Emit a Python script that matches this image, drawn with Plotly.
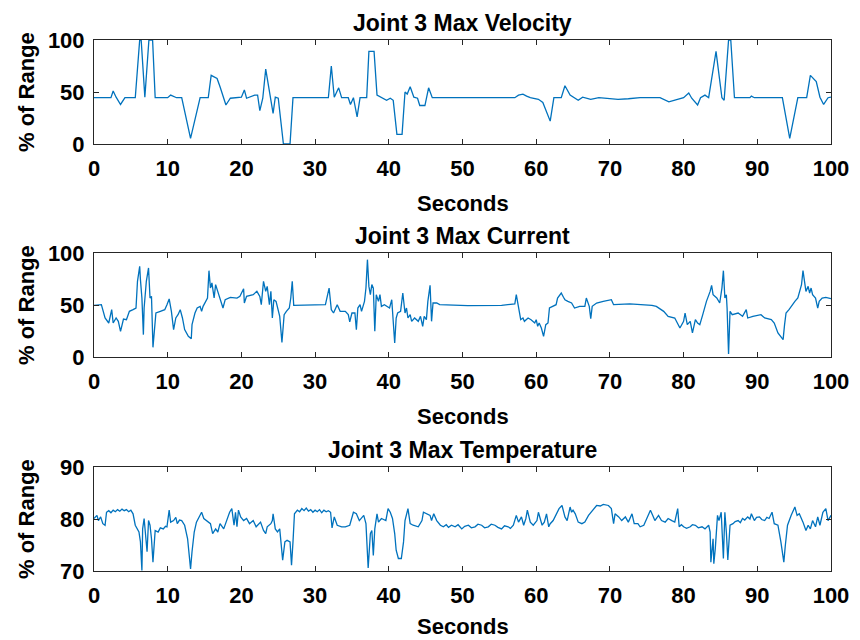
import plotly.graph_objects as go

# ---------------- data ----------------
vel_t = [0, 2.3, 2.6, 3.0, 3.6, 4.2, 5.6, 6.2, 6.4, 6.9, 7.45, 7.95, 8.3, 10.0, 10.4, 11.2, 11.9, 13.1, 14.4,
         15.5, 15.9, 16.7, 17.1, 17.9, 18.5, 20.0, 20.4, 20.7, 21.8, 22.2, 22.5, 22.9, 23.3, 23.9, 24.1, 24.3,
         24.6, 25.0, 25.7, 26.6, 27.0, 31.8, 32.2, 32.6, 33.2, 33.6, 34.5, 34.8, 35.2, 35.7, 36.1, 37.0, 37.3,
         38.0, 38.4, 39.0, 39.7, 40.2, 40.6, 41.1, 41.8, 42.2, 42.5, 42.9, 43.4, 43.9, 44.2, 44.9, 45.4, 45.9,
         57.1, 57.6, 58.2, 58.7, 59.2, 60.3, 60.9, 61.9, 62.4, 63.4, 63.9, 64.6, 65.2, 65.7, 66.3, 67.4, 68.5,
         71.1, 72.5, 74.1, 76.8, 78.0, 80.0, 80.7, 81.1, 81.9, 82.3, 82.9, 83.4, 84.4, 85.2, 85.5, 86.1, 86.4,
         86.9, 89.0, 89.2, 89.6, 93.4, 94.4, 95.5, 96.7, 97.2, 98.0, 98.5, 99.0, 99.6, 100]
vel_v = [44.5, 44.5, 51, 45, 38, 44.5, 44.5, 100, 100, 45, 100, 100, 44.5, 44.5, 47, 44.5, 44.5, 5.5, 44.5,
         44.5, 66, 63, 55, 37.5, 44, 45, 52, 44, 47, 47, 32, 44, 72, 45, 38, 29.5,
         45, 44, 0, 0, 44.5, 44.5, 75, 45, 54, 44.5, 44.5, 38, 44.5, 26, 44.5, 44.5, 89,
         89, 47, 44.5, 42, 44, 42, 9.3, 9.3, 50, 48, 55, 45, 44, 37, 37, 54, 44.5,
         44.5, 47, 48, 46, 44.5, 43, 40, 22, 44.5, 44.5, 56, 47, 44.5, 42, 45, 43, 44.5,
         43, 43.5, 44.5, 44.5, 40.5, 44.5, 49, 44, 37.5, 44.5, 47, 44.5, 89, 44.5, 42, 100, 100,
         44.5, 44.5, 46, 44.5, 44.5, 5.5, 44.5, 44.5, 66, 60, 45, 38, 44.5, 45]

cur_t = [0, 1.0, 1.5, 2.0, 2.4, 2.6, 3.0, 3.3, 3.6, 4.0, 4.4, 4.8, 5.3, 5.7, 5.9, 6.2, 6.3, 6.5, 6.7, 6.8,
         7.1, 7.4, 7.6, 7.8, 8.0, 8.4, 9.0, 9.6, 9.9, 10.2, 10.5, 10.8, 11.1, 11.4, 11.7, 12.0, 12.3, 12.8,
         13.2, 13.3, 13.7, 14.0, 14.4, 14.6, 14.8, 15.4, 15.6, 15.8, 16.0, 16.3, 16.5, 16.9, 17.2, 17.5, 17.8,
         18.5, 19.4, 19.8, 20.3, 20.4, 20.7, 21.6, 22.1, 22.5, 22.7, 23.0, 23.3, 23.5, 23.8, 24.0, 24.2, 24.4,
         24.7, 25.0, 25.2, 25.5, 25.8, 26.1, 26.5, 26.7, 26.9, 27.1, 31.4, 31.9, 32.2, 32.5, 33.0, 33.4, 34.1,
         34.5, 34.7, 35.0, 35.4, 35.6, 35.8, 36.1, 36.3, 36.7, 36.9, 37.1, 37.3, 37.5, 37.7, 37.9, 38.1, 38.3,
         38.6, 38.8, 39.0, 39.4, 40.1, 40.4, 40.6, 40.8, 41.0, 41.2, 41.6, 41.9, 42.2, 42.4, 42.6, 42.9, 43.1,
         43.5, 44.0, 44.3, 44.6, 44.8, 45.1, 45.3, 45.6, 45.8, 46.0, 46.5, 46.9, 50.7, 55.3, 57.1, 57.3, 57.5,
         57.9, 58.2, 58.4, 58.9, 59.3, 59.8, 60.0, 60.2, 60.4, 60.7, 61.0, 61.3, 61.6, 61.8, 62.3, 62.7, 62.9,
         63.4, 63.7, 63.9, 64.3, 64.8, 65.2, 65.9, 66.6, 66.8, 67.2, 67.4, 67.6, 68.2, 69.1, 70.2, 70.5, 72.7,
         75.7, 76.3, 77.3, 77.9, 78.8, 79.5, 80.0, 80.2, 80.5, 80.9, 81.2, 81.6, 81.9, 82.2, 82.6, 83.1, 83.6,
         83.8, 84.0, 84.5, 84.9, 85.2, 85.4, 85.6, 85.8, 85.9, 86.1, 86.3, 86.6, 87.4, 88.0, 88.5, 88.7, 89.4,
         90.5, 91.0, 91.9, 92.3, 92.8, 93.3, 93.5, 93.7, 93.9, 94.3, 94.6, 95.1, 95.5, 95.7, 96.0, 96.2, 96.4,
         96.6, 96.9, 97.1, 97.3, 97.5, 97.9, 98.2, 98.4, 98.8, 99.3, 100]
cur_v = [49.7, 50.3, 37.5, 32.7, 45.5, 32.7, 37.5, 34.3, 24.7, 36.5, 35.9, 43.9, 45.5, 47.1, 72.8, 87.2, 74.4,
         56.7, 21.5, 47.1, 72.8, 85.6, 56.7, 58.3, 9.3, 42.3, 43.9, 45.5, 50.3, 55.8, 43.9, 26.3, 37.5, 40.7,
         45.5, 37.5, 26.3, 19.9, 17.6, 31.1, 42.3, 47.1, 48.7, 43.9, 48.7, 56.7, 83.0, 66.3, 71.2, 56.7, 69.6,
         59.9, 55.1, 47.1, 55.1, 57.4, 56.7, 58.3, 65.7, 51.9, 58.3, 59.9, 63.1, 58.3, 50.3, 72.8, 63.1, 67.9,
         50.3, 63.1, 37.5, 55.1, 53.5, 43.9, 39.1, 14.1, 40.7, 43.9, 47.1, 56.7, 72.8, 49.7, 50.3, 66.3, 45.5,
         42.3, 50.3, 43.9, 43.9, 40.7, 33.7, 42.3, 42.3, 26.3, 47.1, 50.3, 43.9, 53.5, 66.3, 93.6, 67.9, 59.9,
         69.6, 66.3, 24.7, 59.9, 53.5, 59.9, 48.7, 50.3, 47.1, 55.1, 34.3, 13.5, 37.5, 42.3, 43.9, 61.5, 42.3,
         47.1, 37.5, 40.7, 34.3, 37.5, 34.3, 39.1, 29.5, 39.1, 35.9, 53.5, 68.9, 34.3, 51.9, 51.9, 50.3, 49.4,
         49.7, 51.0, 59.9, 50.3, 35.9, 37.5, 34.3, 37.5, 35.9, 32.7, 35.9, 29.5, 32.7, 27.9, 19.9, 31.1, 32.7,
         47.1, 48.7, 50.3, 56.7, 61.5, 57.4, 55.1, 53.5, 51.9, 47.1, 48.7, 48.7, 56.7, 48.7, 36.9, 48.7, 51.9,
         53.5, 55.1, 50.3, 51.0, 49.7, 48.7, 43.9, 39.1, 37.5, 27.9, 34.3, 42.3, 31.1, 34.3, 23.1, 35.9, 32.7,
         31.1, 40.7, 53.5, 63.1, 68.9, 59.9, 56.7, 51.9, 66.3, 83.0, 56.7, 59.9, 47.1, 2.9, 43.9, 40.7, 42.3,
         39.1, 45.5, 37.5, 39.1, 40.7, 37.5, 35.9, 32.7, 23.1, 18.3, 16.7, 31.1, 42.3, 45.5, 48.7, 53.5, 56.7,
         63.1, 69.6, 83.0, 72.8, 63.1, 67.9, 61.5, 66.3, 59.9, 56.7, 47.1, 53.5, 56.7, 57.4, 56.1]

tmp_t = [0, 0.4, 0.6, 0.9, 1.2, 1.5, 1.7, 2.0, 2.3, 2.6, 2.9, 3.2, 3.5, 3.8, 4.1, 4.4, 4.7, 5.0, 5.3,
         5.6, 6.1, 6.3, 6.5, 6.6, 6.8, 7.0, 7.2, 7.4, 7.6, 7.8, 8.0, 8.3, 8.7, 9.0, 9.4, 9.7, 9.9, 10.2,
         10.4, 10.8, 11.1, 11.3, 11.6, 11.9, 12.1, 12.3, 12.7, 12.9, 13.1, 13.3, 13.6, 13.9, 14.4, 14.6, 14.9,
         15.3, 15.8, 16.1, 16.5, 16.8, 17.1, 17.6, 18.1, 18.4, 18.7, 19.0, 19.2, 19.4, 19.6, 19.9, 20.3, 20.7,
         21.1, 21.6, 22.0, 22.6, 23.0, 23.3, 23.5, 24.0, 24.2, 24.3, 24.6, 24.9, 25.2, 25.4, 25.6, 25.9, 26.2,
         26.6, 26.8, 27.0, 27.2, 27.6, 27.9, 28.2, 28.5, 28.8, 29.1, 29.4, 29.7, 30.0, 30.3, 30.6, 30.9, 31.2,
         31.5, 31.8, 32.1, 32.3, 32.6, 33.0, 33.6, 34.1, 34.7, 35.2, 35.6, 36.0, 36.6, 36.9, 37.0, 37.2, 37.5,
         37.7, 37.9, 38.1, 38.4, 38.6, 39.0, 39.6, 39.9, 40.2, 40.5, 40.8, 41.0, 41.3, 41.7, 42.0, 42.2, 42.4,
         42.6, 42.9, 43.3, 44.0, 44.5, 44.7, 45.2, 45.6, 45.8, 46.1, 46.5, 47.0, 47.4, 47.8, 48.1, 48.5, 49.0,
         49.4, 49.9, 50.3, 50.8, 51.2, 51.7, 52.1, 52.6, 53.0, 53.5, 53.9, 54.4, 54.8, 55.3, 55.7, 56.2, 56.5,
         56.9, 57.1, 57.3, 57.6, 58.0, 58.3, 58.6, 58.8, 59.2, 59.6, 60.1, 60.3, 60.5, 60.8, 61.1, 61.4, 61.7,
         61.9, 62.3, 62.8, 63.1, 63.5, 63.7, 63.9, 64.2, 64.4, 64.6, 64.8, 65.0, 65.3, 65.7, 66.2, 66.6, 67.1,
         67.8, 68.2, 68.7, 69.1, 69.8, 70.2, 70.5, 70.7, 71.2, 71.6, 72.1, 72.5, 73.0, 73.3, 73.8, 74.1, 74.6,
         75.0, 75.5, 75.8, 76.1, 76.6, 77.0, 77.5, 77.9, 78.4, 78.8, 79.2, 79.4, 79.7, 80.0, 80.4, 80.9, 81.2,
         81.6, 82.0, 82.5, 82.9, 83.2, 83.4, 83.6, 83.7, 84.0, 84.1, 84.3, 84.6, 84.8, 85.1, 85.4, 85.6, 85.8,
         86.0, 86.3, 86.7, 87.0, 87.4, 87.7, 88.0, 88.3, 88.7, 89.0, 89.2, 89.6, 89.9, 90.3, 90.6, 91.0, 91.3,
         91.6, 92.0, 92.3, 92.8, 93.2, 93.6, 93.8, 94.1, 94.6, 95.1, 95.4, 95.7, 96.2, 96.6, 96.9, 97.2, 97.5,
         97.9, 98.2, 98.5, 98.9, 99.3, 99.6, 100]
tmp_v = [80.1, 80.7, 79.7, 80.4, 79.1, 78.8, 81.3, 81.6, 81.2, 81.7, 81.4, 81.8, 81.5, 81.9, 81.6, 81.8, 81.4,
         81.7, 81.0,
         78.8, 77.5, 75.6, 70.1, 78.1, 80.1, 76.9, 73.7, 79.7, 78.8, 76.2, 71.7, 77.8, 77.5, 78.3, 78.1, 78.6,
         78.5, 81.7, 79.4, 79.7, 80.3, 79.1, 79.8, 79.7, 79.2, 78.8, 76.2, 73.0, 70.4, 73.7, 77.5, 79.4, 80.7,
         81.3, 80.1, 79.7, 79.1, 77.2, 78.1, 77.5, 79.1, 78.1, 80.1, 81.3, 82.0, 78.8, 81.3, 78.5, 81.7, 80.4,
         79.7, 80.1, 79.1, 79.7, 78.5, 79.4, 77.8, 77.2, 78.5, 79.1, 79.7, 81.0, 78.1, 77.5, 78.1, 74.3, 72.1,
         75.6, 75.9, 75.6, 71.1, 75.6, 81.0, 81.7, 81.4, 82.0, 81.6, 82.1, 81.5, 81.8, 81.3, 81.7, 81.4, 81.8,
         81.2, 81.7, 81.4, 81.6, 81.3, 78.3, 80.4, 78.8, 78.5, 78.5, 78.8, 81.3, 81.0, 79.7, 80.7, 79.1, 76.2,
         70.6, 77.2, 77.8, 73.0, 78.1, 81.0, 79.4, 80.1, 79.7, 82.0, 81.3, 80.1, 77.2, 74.0, 72.4, 72.4, 75.6,
         79.7, 80.7, 82.0, 79.1, 78.8, 78.5, 79.7, 81.3, 81.0, 80.7, 79.7, 81.0, 79.7, 78.8, 78.5, 78.9, 78.4,
         78.8, 78.5, 78.9, 78.1, 78.6, 78.8, 78.3, 78.5, 79.0, 78.8, 78.3, 78.5, 79.0, 78.8, 78.4, 78.1, 78.7,
         78.5, 78.2, 78.8, 79.7, 80.7, 79.4, 80.4, 78.8, 80.1, 81.7, 79.4, 78.8, 79.7, 81.3, 80.4, 78.8, 79.4,
         81.0, 78.5, 79.1, 79.7, 81.0, 82.0, 82.6, 81.3, 80.4, 79.7, 81.0, 82.3, 81.3, 81.7, 81.0, 79.4, 79.1,
         79.4, 80.7, 82.0, 82.6, 82.5, 82.8, 82.6, 82.0, 79.1, 81.0, 80.4, 79.7, 80.4, 79.4, 81.0, 79.1, 79.1,
         78.5, 78.8, 80.1, 81.7, 80.7, 79.7, 80.7, 79.7, 79.4, 80.1, 79.7, 79.4, 82.0, 78.5, 78.9, 78.5, 78.2,
         78.5, 78.9, 78.8, 78.3, 78.5, 78.1, 78.6, 78.8, 77.5, 71.7, 76.2, 71.4, 74.3, 80.7, 79.7, 81.3, 72.4,
         81.3, 77.5, 72.1, 78.8, 79.1, 79.5, 79.7, 79.3, 80.1, 79.8, 80.4, 80.0, 81.0, 79.7, 80.3, 80.4, 79.9,
         79.7, 80.3, 80.1, 81.3, 79.1, 78.8, 75.6, 71.7, 74.9, 78.8, 80.7, 82.3, 80.7, 81.0, 79.4, 77.8, 78.8,
         78.1, 79.7, 78.5, 80.4, 78.8, 81.3, 82.0, 79.7, 80.7]

titles = ["Joint 3 Max Velocity", "Joint 3 Max Current", "Joint 3 Max Temperature"]
x_ticks = [0, 10, 20, 30, 40, 50, 60, 70, 80, 90, 100]
y_ticks = [[0, 50, 100], [0, 50, 100], [70, 80, 90]]
y_ranges = [[0, 100], [0, 100], [70, 90]]
x_label = "Seconds"
y_label = "% of Range"

# ---------------- figure ----------------
# the page body has an 8px margin, so the figure is drawn 8px smaller and all
# reference screen positions are shifted by 8px
OFF = 8
W, H = 860 - OFF, 640 - OFF
LINE = "#0072BD"
AX = "#262626"
FONT = "Liberation Sans, Arial, sans-serif"

# screen-pixel boxes of the three axes (top, bottom) and x-label centres
boxes = [(40, 144), (253, 357), (467, 571)]
xlabel_y = [203, 416, 626]
x_left, x_right = 94, 831


def px(x):
    return (x - OFF) / W


def py(y):
    return 1 - (y - OFF) / H


fig = go.Figure()
series = [(vel_t, vel_v), (cur_t, cur_v), (tmp_t, tmp_v)]
for i, (t, v) in enumerate(series):
    sfx = "" if i == 0 else str(i + 1)
    fig.add_trace(go.Scatter(x=t, y=v, mode="lines", line=dict(color=LINE, width=1.3),
                             xaxis="x" + sfx, yaxis="y" + sfx, showlegend=False, hoverinfo="skip"))

layout = dict(width=W, height=H, margin=dict(l=0, r=0, t=0, b=0, autoexpand=False),
              paper_bgcolor="white", plot_bgcolor="white", showlegend=False,
              font=dict(family=FONT, color="black"))
annotations = []
for i, (top, bot) in enumerate(boxes):
    sfx = "" if i == 0 else str(i + 1)
    ydom = [py(bot), py(top)]
    xdom = [px(x_left), px(x_right)]
    common = dict(showline=True, linecolor=AX, linewidth=1, mirror="allticks", ticks="inside",
                  ticklen=5, tickwidth=1, tickcolor=AX, showgrid=False, zeroline=False, automargin=False,
                  tickfont=dict(family=FONT, size=22, color="black", weight="bold"))
    layout["xaxis" + sfx] = dict(domain=xdom, anchor="y" + sfx, range=[0, 100], tickvals=x_ticks,
                                 ticklabelstandoff=5, **common)
    layout["yaxis" + sfx] = dict(domain=ydom, anchor="x" + sfx, range=y_ranges[i], tickvals=y_ticks[i],
                                 ticklabelstandoff=4, **common)
    cx = px((x_left + x_right) / 2)
    annotations.append(dict(text="<b>" + titles[i] + "</b>", x=cx, y=py(top - 17),
                            xref="paper", yref="paper", showarrow=False, xanchor="center", yanchor="middle",
                            font=dict(family=FONT, size=23, color="black")))
    annotations.append(dict(text="<b>" + x_label + "</b>", x=cx, y=py(xlabel_y[i]),
                            xref="paper", yref="paper", showarrow=False, xanchor="center", yanchor="middle",
                            font=dict(family=FONT, size=22, color="black")))
    annotations.append(dict(text="<b>" + y_label + "</b>", x=px(26), y=py((top + bot) / 2),
                            xref="paper", yref="paper", showarrow=False, xanchor="center", yanchor="middle",
                            textangle=-90, font=dict(family=FONT, size=22, color="black")))
layout["annotations"] = annotations
fig.update_layout(**layout)
fig.write_html("out.html")
